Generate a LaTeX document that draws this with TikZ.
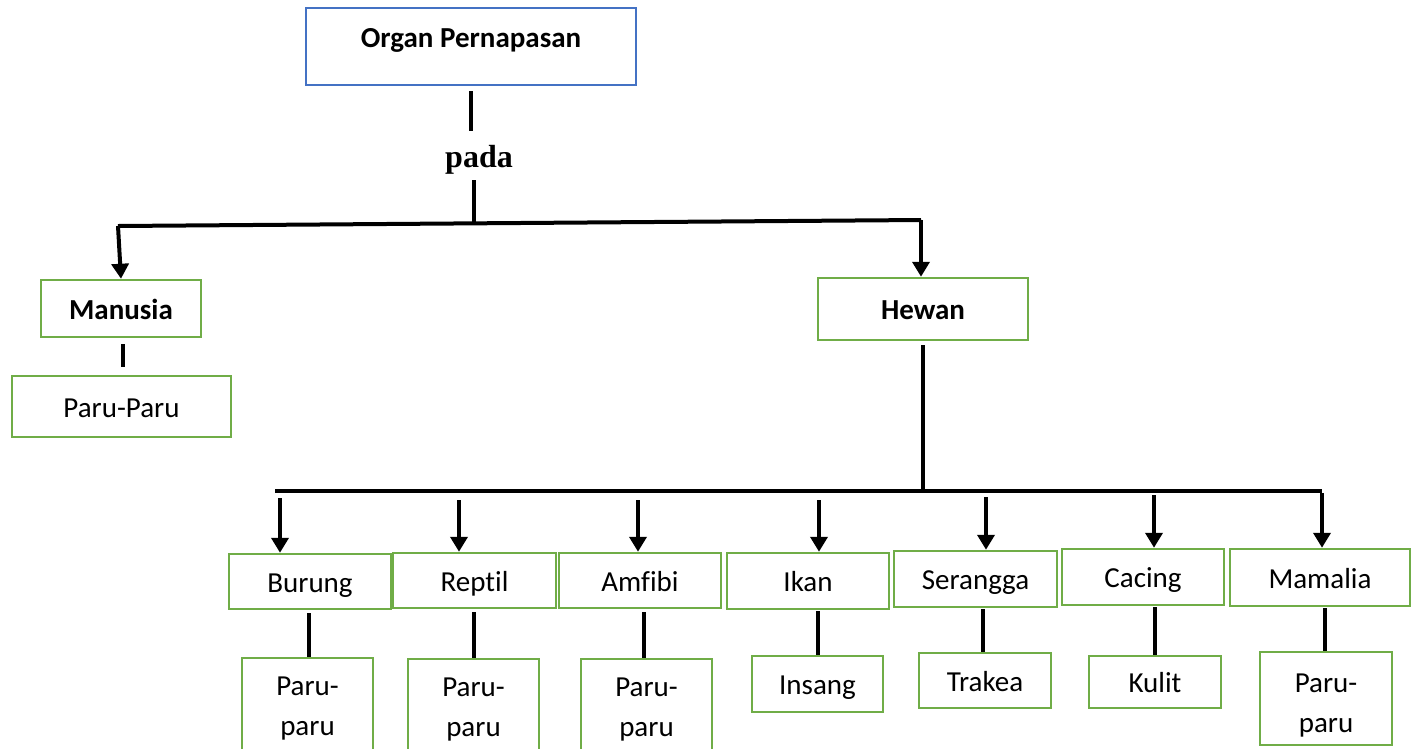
\documentclass[tikz,border=0pt]{standalone}
\usepackage{fontspec}
\setmainfont{Carlito}[Ligatures=NoCommon]
\newfontfamily\padafont{Liberation Serif}
\usetikzlibrary{arrows.meta}
\definecolor{boxgreen}{HTML}{70AD47}
\definecolor{boxblue}{HTML}{4472C4}
\begin{document}
\begin{tikzpicture}[x=1pt,y=-1pt,
  mbox/.style={draw=boxgreen,line width=2.5pt,inner sep=0pt,align=center,font=\fontsize{29}{40}\selectfont},
  box/.style={mbox,text height=21.5pt,text depth=0pt},
  bbox/.style={box,font=\bfseries\fontsize{29}{34}\selectfont},
  conn/.style={line width=4pt},
  arr/.style={line width=4pt,-{Triangle[width=17pt,length=15pt]}}]
\useasboundingbox (0,0) rectangle (1411,748);
\clip (0,0) rectangle (1411,748);
\fill[white] (0,0) rectangle (1411,748);

% top
\node[mbox,draw=boxblue,minimum width=330pt,minimum height=77pt] (top) at (471,46.5) {};
\node[font=\bfseries\fontsize{29}{34}\selectfont] (toptext) at (471,40) {Organ Pernapasan};
\node[font=\padafont\bfseries\fontsize{32}{38}\selectfont] (pada) at (479,160) {pada};

% level 1
\node[bbox,minimum width=160pt,minimum height=57pt] (man) at (121,308.5) {Manusia};
\node[box,minimum width=219pt,minimum height=61pt] (paru0) at (121.5,406.5) {Paru-Paru};
\node[bbox,minimum width=210pt,minimum height=62pt] (hew) at (923,309) {Hewan};

% level 2
\node[box,minimum width=162pt,minimum height=55pt] (bur) at (310,581.5) {Burung};
\node[box,minimum width=163pt,minimum height=55pt] (rep) at (474.5,580.5) {Reptil};
\node[box,minimum width=162pt,minimum height=55pt] (amf) at (640,580.5) {Amfibi};
\node[box,minimum width=162pt,minimum height=56pt] (ikn) at (808,581) {Ikan};
\node[box,minimum width=163pt,minimum height=56pt] (ser) at (975.5,579) {Serangga};
\node[box,minimum width=162pt,minimum height=56pt] (cac) at (1143,577) {Cacing};
\node[box,minimum width=180pt,minimum height=57pt] (mam) at (1320,577.5) {Mamalia};

% level 3
\node[mbox,minimum width=131pt,minimum height=102pt] (p1) at (307.5,709) {Paru-\\paru};
\node[mbox,minimum width=131pt,minimum height=102pt] (p2) at (473.5,710) {Paru-\\paru};
\node[mbox,minimum width=131pt,minimum height=102pt] (p3) at (646.5,710) {Paru-\\paru};
\node[box,minimum width=131pt,minimum height=56pt] (ins) at (817.5,684) {Insang};
\node[box,minimum width=132pt,minimum height=55pt] (tra) at (985,680.5) {Trakea};
\node[box,minimum width=132pt,minimum height=52pt] (kul) at (1155,682) {Kulit};
\node[mbox,minimum width=132pt,minimum height=93pt] (p7) at (1326,698.5) {\rule{0pt}{32pt}Paru-\\paru};

% connectors top
\coordinate (j1) at (474,222);
\coordinate (ml) at (118,226);
\coordinate (mr) at (921,220);
\draw[conn] ([yshift=-5pt]top.south) -- ([yshift=-45pt]top.south);
\draw[conn] (474,180) -- (j1);
\draw[conn] (ml) -- (mr);
\draw[arr] (ml) -- (man.north);
\draw[arr] (mr) -- (mr |- hew.north);
\draw[conn] ([xshift=2pt,yshift=-6pt]man.south) -- ([xshift=1.5pt,yshift=8pt]paru0.north);

% hewan tree
\coordinate (j2) at (923,491);
\coordinate (hl) at (275,491);
\coordinate (hr) at (1322,491);
\draw[conn] ([yshift=-4pt]hew.south) -- (j2);
\draw[conn] (hl) -- (hr);
\coordinate (a1) at (280,498);
\coordinate (a2) at (459,500);
\coordinate (a3) at (638,500);
\coordinate (a4) at (819,500);
\coordinate (a5) at (986,497);
\coordinate (a6) at (1154,495);
\draw[arr] (a1) -- (a1 |- bur.north);
\draw[arr] (a2) -- (a2 |- rep.north);
\draw[arr] (a3) -- (a3 |- amf.north);
\draw[arr] (a4) -- (a4 |- ikn.north);
\draw[arr] (a5) -- (a5 |- ser.north);
\draw[arr] (a6) -- (a6 |- cac.north);
\draw[arr] ([yshift=-2pt]hr) -- (hr |- mam.north);

% leaves
\draw[conn] ([xshift=1.5pt,yshift=-3pt]p1.north |- bur.south) -- ([xshift=1.5pt]p1.north);
\draw[conn] ([yshift=-3pt]p2.north |- rep.south) -- (p2.north);
\draw[conn] ([xshift=-2.5pt,yshift=-3pt]p3.north |- amf.south) -- ([xshift=-2.5pt]p3.north);
\draw[conn] ([yshift=-1pt]ins.north |- ikn.south) -- (ins.north);
\draw[conn] ([xshift=-2pt,yshift=-1pt]tra.north |- ser.south) -- ([xshift=-2pt]tra.north);
\draw[conn] ([yshift=-1pt]kul.north |- cac.south) -- (kul.north);
\draw[conn] ([xshift=-1pt,yshift=-1pt]p7.north |- mam.south) -- ([xshift=-1pt]p7.north);
\end{tikzpicture}
\end{document}
